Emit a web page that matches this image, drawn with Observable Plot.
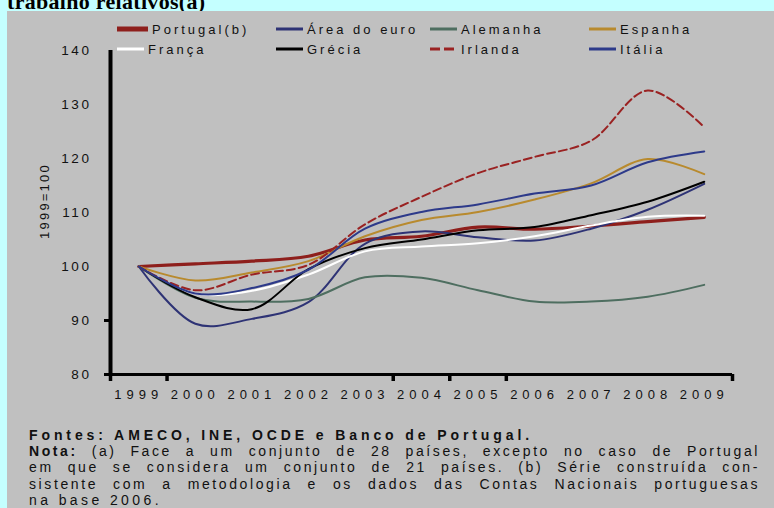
<!DOCTYPE html>
<html>
<head>
<meta charset="utf-8">
<script src="https://cdn.jsdelivr.net/npm/d3@7"></script>
<script src="https://cdn.jsdelivr.net/npm/@observablehq/plot@0.6"></script>
<style>
  html, body { margin: 0; padding: 0; }
  body { width: 774px; height: 508px; background: #c4ffff; position: relative; overflow: hidden; font-family: "Liberation Sans", Arial, sans-serif; color: #111; }
  #title { position: absolute; left: 7px; top: -9px; font: bold 22px/22px "Liberation Serif", "Times New Roman", serif; color: #000; white-space: nowrap; letter-spacing: 0.3px; }
  #panel { position: absolute; left: 7px; top: 11px; width: 767px; height: 497px; background: #c0c0c0; }
  #legend { position: absolute; left: 0; top: 0; }
  .lg { position: absolute; height: 14px; display: flex; align-items: center; font-size: 13px; letter-spacing: 3px; white-space: nowrap; }
  .lg svg { margin-right: 4px; }
  #chart { position: absolute; left: 0; top: 40px; }
  #ytitle { position: absolute; left: 44px; top: 201px; transform: translate(-50%, -50%) rotate(-90deg); font-size: 13px; letter-spacing: 2.2px; white-space: nowrap; }
  #caption { position: absolute; left: 29px; top: 427px; width: 731px; font-size: 14px; line-height: 16.2px; letter-spacing: 3.4px; }
  #caption div { white-space: nowrap; }
  #caption .j { white-space: normal; text-align: justify; text-align-last: justify; letter-spacing: 2.6px; }
  svg g[aria-label="y-axis tick label"] text { letter-spacing: 2.6px; }
  svg g[aria-label="x-axis tick label"] text { letter-spacing: 5px; }
</style>
</head>
<body>
<div id="title">trabalho relativos(a)</div>
<div id="panel"></div>
<div id="legend"></div>
<div id="chart"></div>
<div id="ytitle">1999=100</div>
<div id="caption">
  <div style="font-weight:bold;letter-spacing:3.9px">Fontes: AMECO, INE, OCDE e Banco de Portugal.</div>
  <div class="j"><b>Nota:</b> (a) Face a um conjunto de 28 países, excepto no caso de Portugal</div>
  <div class="j">em que se considera um conjunto de 21 países. (b) Série construída con-</div>
  <div class="j">sistente com a metodologia e os dados das Contas Nacionais portuguesas</div>
  <div>na base 2006.</div>
</div>
<script>
// ---- data ----
const years = [1999, 2000, 2001, 2002, 2003, 2004, 2005, 2006, 2007, 2008, 2009];
const portugal = [100, 100.5, 101.0, 101.9, 104.9, 105.6, 107.3, 106.9, 107.5, 108.3, 109.1];
const areaEuro = [100, 89.4, 90.3, 93.4, 104.2, 106.5, 105.4, 104.8, 107.0, 110.5, 115.3];
const alemanha = [100, 94.2, 93.5, 94.0, 98.0, 97.9, 95.6, 93.5, 93.5, 94.4, 96.6];
const espanha  = [100, 97.4, 98.9, 101.0, 105.6, 108.6, 110.1, 112.4, 115.4, 119.9, 117.1];
const franca   = [100, 95.0, 95.5, 98.5, 102.8, 103.7, 104.3, 105.6, 107.6, 109.2, 109.4];
const grecia   = [100, 94.3, 92.1, 99.5, 103.4, 105.0, 106.7, 107.3, 109.5, 112.0, 115.7];
const irlanda  = [100, 95.6, 98.5, 100.3, 107.8, 112.9, 117.3, 120.3, 123.3, 132.6, 125.8];
const italia   = [100, 95.0, 96.0, 99.4, 107.0, 110.1, 111.5, 113.5, 115.0, 119.3, 121.3];
const yTicks = [80, 90, 100, 110, 120, 130, 140];
const xTickMarks = [1998.5, 1999.5, 2003.5, 2004.5, 2005.5, 2009.5];

const seriesNames = ["Portugal(b)", "Área do euro", "Alemanha", "Espanha", "França", "Grécia", "Irlanda", "Itália"];
const seriesValues = [portugal, areaEuro, alemanha, espanha, franca, grecia, irlanda, italia];
const seriesColors = ["#8e1f1c", "#2e3375", "#4e6e60", "#b88a2e", "#ffffff", "#000000", "#9a2222", "#2d3a8a"];
const seriesWidths = [3.2, 2, 2, 2, 2, 2, 2, 2];
const seriesDash = [null, null, null, null, null, null, "8,4", null];

// ---- legend (HTML) ----
const legendCols = [117, 276, 430, 589];
const legendRows = [29, 49];
const legend = document.getElementById("legend");
seriesNames.forEach((name, i) => {
  const col = i % 4, row = Math.floor(i / 4);
  const div = document.createElement("div");
  div.className = "lg";
  div.style.left = legendCols[col] + "px";
  div.style.top = (legendRows[row] - 7) + "px";
  const w = i === 0 ? 31 : 27;
  const sw = i === 0 ? 5 : 3;
  div.innerHTML = `<svg width="${w}" height="14"><line x1="0" x2="${w}" y1="7" y2="7" stroke="${seriesColors[i]}" stroke-width="${sw}" ${seriesDash[i] ? `stroke-dasharray="10,4"` : ""}/></svg><span>${name}</span>`;
  legend.appendChild(div);
});

// ---- long table for Plot ----
const rows = [];
seriesNames.forEach((name, i) => years.forEach((yr, j) => rows.push({serie: name, year: yr, value: seriesValues[i][j]})));

const marks = [
  Plot.axisY({ticks: yTicks, tickSize: 0, tickPadding: 19, fontSize: 13.5, fill: "#111", label: null}),
  Plot.axisY({ticks: [80, 90], tickSize: 6, tickFormat: () => "", strokeWidth: 3, stroke: "#000", label: null}),
  Plot.axisX({ticks: years, tickSize: 0, tickPadding: 15, tickFormat: d => String(d), fontSize: 13, fill: "#111", label: null}),
  Plot.axisX({ticks: xTickMarks, tickSize: 7, tickFormat: () => "", strokeWidth: 3.5, stroke: "#000", label: null}),
];
seriesNames.forEach((name, i) => {
  marks.push(Plot.line(rows.filter(r => r.serie === name), {
    x: "year", y: "value",
    stroke: seriesColors[i], strokeWidth: seriesWidths[i],
    strokeDasharray: seriesDash[i] || undefined,
    curve: "catmull-rom"
  }));
});
marks.push(Plot.ruleX([1998.5], {y1: 80, y2: 140, stroke: "#000", strokeWidth: 4}));
marks.push(Plot.ruleY([80], {stroke: "#000", strokeWidth: 3}));

const chart = Plot.plot({
  width: 774,
  height: 370,
  marginLeft: 110,
  marginRight: 42,
  marginTop: 10,
  marginBottom: 36,
  style: {background: "transparent", fontFamily: "'Liberation Sans', Arial, sans-serif", fontSize: "13px", color: "#111"},
  x: {type: "linear", domain: [1998.5, 2009.5]},
  y: {domain: [80, 140]},
  marks
});
document.getElementById("chart").appendChild(chart);
</script>
</body>
</html>
